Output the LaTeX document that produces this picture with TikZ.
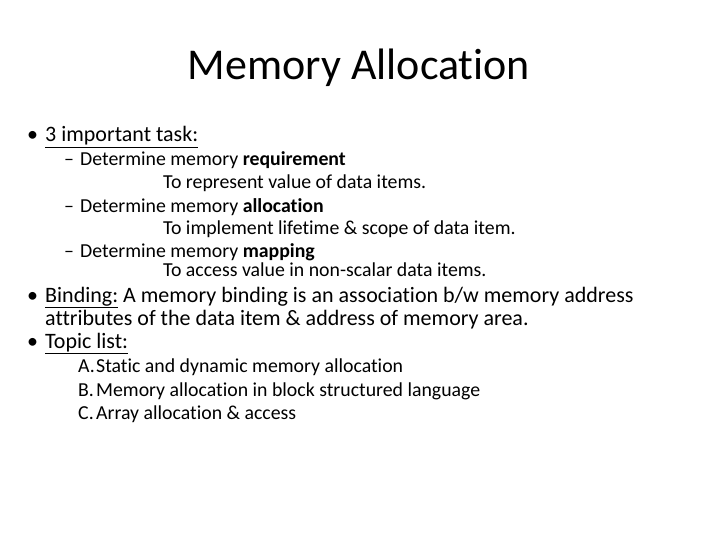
\documentclass[tikz,border=0pt]{standalone}
\usepackage{fontspec}
\setmainfont[Ligatures={NoCommon}]{Carlito}
\begin{document}
\begin{tikzpicture}[x=1pt,y=-1pt,
  t/.style={anchor=base west,inner sep=0pt,font=\fontsize{22}{26}\selectfont},
  s/.style={anchor=base west,inner sep=0pt,font=\fontsize{19.8}{23}\selectfont}]
\useasboundingbox (0,0) rectangle (720,540);
\node[anchor=base,inner sep=0pt,font=\fontsize{44}{50}\selectfont] (title) at (359,80) {Memory Allocation};
\node[t] (b1) at (27,142) {•};
\node[t] (b1t) at (45,142) {\underline{3 important task:}};
\node[s] (d1) at (64,166) {–};
\node[s] (d1t) at (80,166) {Determine memory \textbf{requirement}};
\node[s] (e1) at (163,189) {To represent value of data items.};
\node[s] (d2) at (64,212) {–};
\node[s] (d2t) at (80,212) {Determine memory \textbf{allocation}};
\node[s] (e2) at (163,235) {To implement lifetime \& scope of data item.};
\node[s] (d3) at (64,258) {–};
\node[s] (d3t) at (80,258) {Determine memory \textbf{mapping}};
\node[s] (e3) at (163,276) {To access value in non-scalar data items.};
\node[t] (b2) at (27,302) {•};
\node[t] (b2t) at (45,302) {\underline{Binding:} A memory binding is an association b/w memory address};
\node[t] (b2u) at (45,325) {attributes of the data item \& address of memory area.};
\node[t] (b3) at (27,348) {•};
\node[t] (b3t) at (45,348) {\underline{Topic list:}};
\node[s] (la) at (78,372) {A.};
\node[s] (lat) at (96,372) {Static and dynamic memory allocation};
\node[s] (lb) at (78,396) {B.};
\node[s] (lbt) at (96,396) {Memory allocation in block structured language};
\node[s] (lc) at (78,419) {C.};
\node[s] (lct) at (96,419) {Array allocation \& access};
\end{tikzpicture}
\end{document}
